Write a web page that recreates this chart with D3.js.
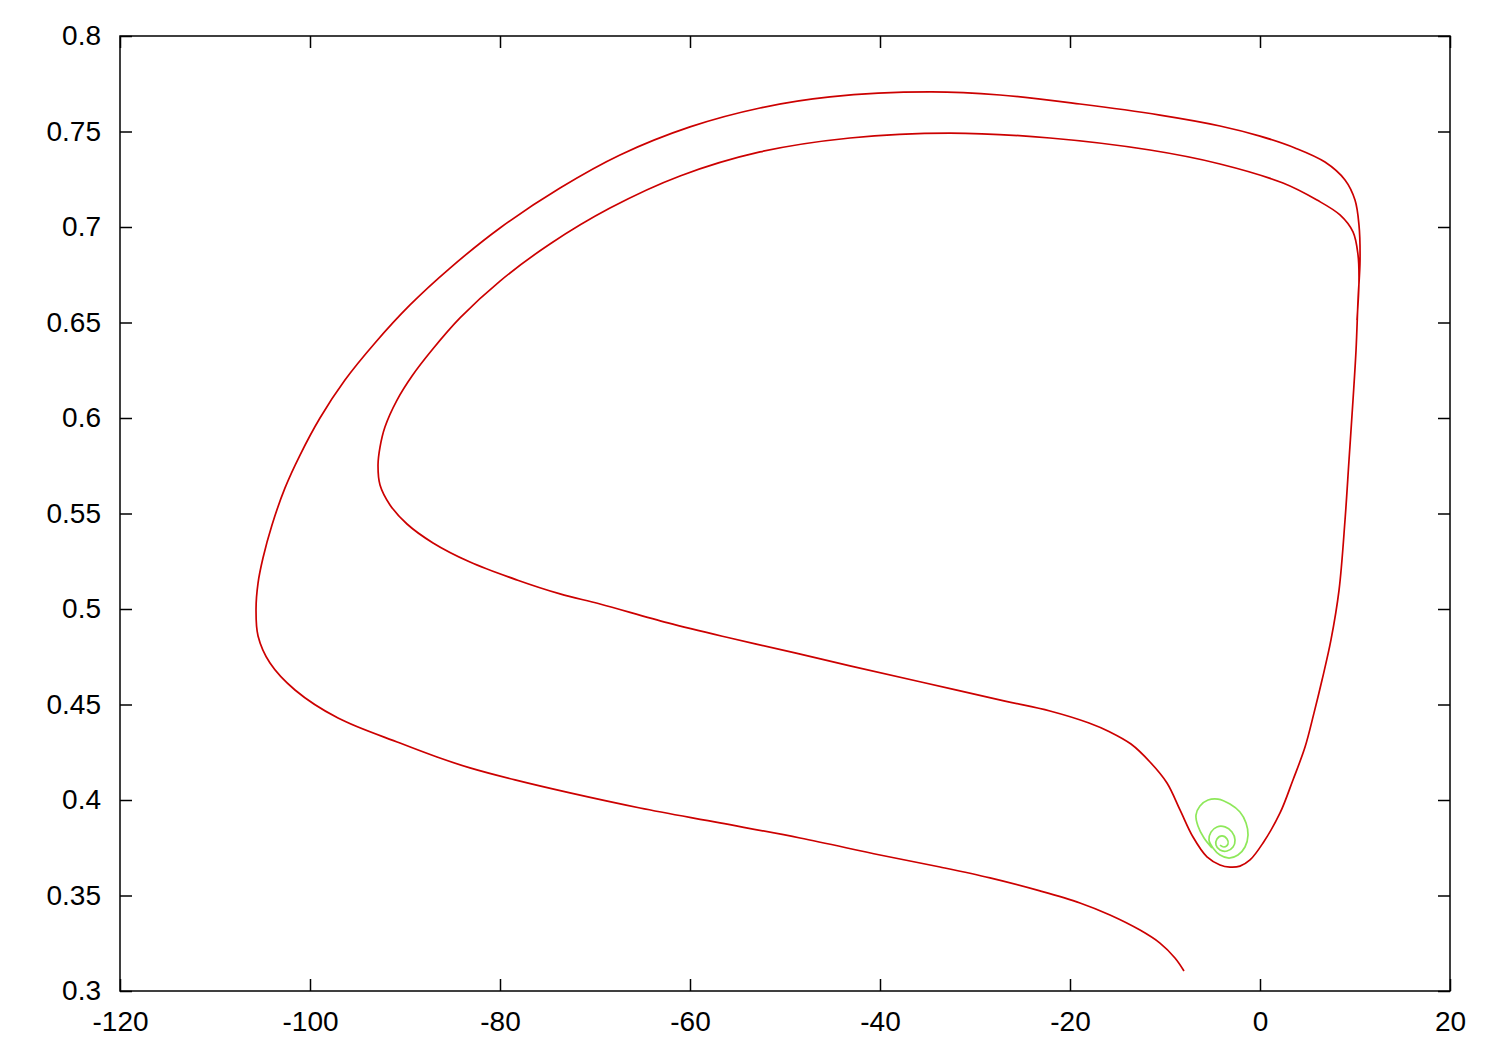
<!DOCTYPE html>
<html>
<head>
<meta charset="utf-8">
<script src="https://cdn.jsdelivr.net/npm/d3@7"></script>
<style>
  body { margin: 0; background: #fff; }
  svg text { font-family: "Liberation Sans", Arial, sans-serif; font-size: 28px; fill: #000; }
</style>
</head>
<body>
<div id="chart"></div>
<script>
{
  const { d3 } = window;

  // trajectory (red): x values and y values
  const trajX = [
    -8.0, -8.95, -10.53, -12.63, -15.79, -18.95, -23.16, -28.42, -33.68, -40.0,
    -48.42, -56.84, -65.26, -72.63, -78.42, -83.16, -86.63, -90.53, -97.05, -101.58,
    -104.21, -105.47, -105.68, -105.47, -104.95, -104.0, -102.63, -101.05, -98.95, -96.32,
    -93.16, -89.47, -85.26, -80.0, -73.68, -67.37, -60.0, -52.63, -45.26, -34.74,
    -27.37, -18.95, -10.53, -4.21, 0, 3.68, 6.84, 8.95, 10.0, 10.42,
    10.53, 10.32, 10.11, 9.79, 9.37, 8.95, 8.32, 7.47, 6.53, 5.68,
    4.74, 3.47, 2.11, 0.32, -1.05, -2.11, -3.16, -4.21, -5.58, -7.05,
    -8.42, -9.79, -11.58, -13.58, -15.79, -18.0, -22.11, -26.84, -35.68, -43.16,
    -48.95, -55.79, -62.32, -69.47, -73.68, -78.21, -83.16, -87.05, -89.79, -91.58,
    -92.63, -92.84, -92.63, -92.11, -90.84, -89.26, -87.16, -84.21, -80.0, -74.74,
    -68.42, -61.05, -52.63, -43.16, -32.63, -22.11, -11.58, -4.21, 2.42, 6.0,
    8.42, 9.79, 10.32, 10.42, 10.21,
  ];
  const trajY = [
    0.3105, 0.3173, 0.3251, 0.3319, 0.3398, 0.3461, 0.3524, 0.3592, 0.3649, 0.3712,
    0.3801, 0.3880, 0.3958, 0.4037, 0.4105, 0.4168, 0.4225, 0.4298, 0.4429, 0.4576,
    0.4717, 0.4859, 0.5, 0.5136, 0.5267, 0.5440, 0.5634, 0.5806, 0.6, 0.6199,
    0.6393, 0.6592, 0.6785, 0.6995, 0.7204, 0.7377, 0.7524, 0.7623, 0.7681, 0.7707,
    0.7691, 0.7644, 0.7586, 0.7529, 0.7476, 0.7414, 0.7340, 0.7246, 0.7141, 0.7010,
    0.6827, 0.6618, 0.6356, 0.6094, 0.5780, 0.5466, 0.5099, 0.4838, 0.4628, 0.4455,
    0.4277, 0.4105, 0.3932, 0.3775, 0.3686, 0.3654, 0.3649, 0.3660, 0.3702, 0.3806,
    0.3948, 0.4089, 0.4199, 0.4293, 0.4356, 0.4403, 0.4466, 0.4518, 0.4618, 0.4702,
    0.4770, 0.4848, 0.4927, 0.5026, 0.5079, 0.5152, 0.5246, 0.5346, 0.5445, 0.5545,
    0.5649, 0.5754, 0.5848, 0.5953, 0.6094, 0.6220, 0.6356, 0.6524, 0.6717, 0.6911,
    0.7099, 0.7267, 0.7393, 0.7466, 0.7492, 0.7466, 0.7403, 0.7330, 0.7230, 0.7141,
    0.7063, 0.6974, 0.6853, 0.6723, 0.6513,
  ];

  // spiral (green) near the fixed point
  const spiralX = [
    -5.05, -5.89, -6.53, -6.74, -6.32, -5.47, -4.42, -3.16, -2.11, -1.47,
    -1.26, -1.58, -2.32, -3.26, -4.21, -4.95, -5.37, -5.16, -4.53, -3.68,
    -2.95, -2.63, -2.84, -3.47, -4.21, -4.63, -4.53, -4.0, -3.47, -3.37,
    -3.79, -4.21,
  ];
  const spiralY = [
    0.3749, 0.3801, 0.3864, 0.3921, 0.3969, 0.4, 0.4005, 0.3979, 0.3937, 0.3880,
    0.3817, 0.3754, 0.3712, 0.3696, 0.3712, 0.3749, 0.3791, 0.3832, 0.3859, 0.3859,
    0.3832, 0.3791, 0.3754, 0.3733, 0.3738, 0.3764, 0.3796, 0.3812, 0.3796, 0.3770,
    0.3754, 0.3764,
  ];

  const xTicks = [-120, -100, -80, -60, -40, -20, 0, 20];
  const yTicks = [0.3, 0.35, 0.4, 0.45, 0.5, 0.55, 0.6, 0.65, 0.7, 0.75, 0.8];

  const width = 1500;
  const height = 1050;
  const margin = { top: 36, right: 50, bottom: 59, left: 120 };
  const tickLen = 12;

  const svg = d3.select('#chart').append('svg')
    .attr('width', width)
    .attr('height', height);

  const x = d3.scaleLinear().domain([-120, 20]).range([margin.left, width - margin.right]);
  const y = d3.scaleLinear().domain([0.3, 0.8]).range([height - margin.bottom, margin.top]);

  // plain hyphen minus, as in the original
  const fmt = d => String(d);

  // ticks on all four sides, pointing inward
  svg.append('g')
    .attr('transform', `translate(0,${y(0.3)})`)
    .call(d3.axisBottom(x).tickValues(xTicks).tickSize(-tickLen).tickPadding(tickLen + 8).tickFormat(fmt))
    .call(g => g.select('.domain').remove());
  svg.append('g')
    .attr('transform', `translate(0,${y(0.8)})`)
    .call(d3.axisTop(x).tickValues(xTicks).tickSize(-tickLen).tickFormat(''))
    .call(g => g.select('.domain').remove());
  svg.append('g')
    .attr('transform', `translate(${x(-120)},0)`)
    .call(d3.axisLeft(y).tickValues(yTicks).tickSize(-tickLen).tickPadding(tickLen + 7).tickFormat(fmt))
    .call(g => g.select('.domain').remove());
  svg.append('g')
    .attr('transform', `translate(${x(20)},0)`)
    .call(d3.axisRight(y).tickValues(yTicks).tickSize(-tickLen).tickFormat(''))
    .call(g => g.select('.domain').remove());

  svg.selectAll('.tick line').attr('stroke', '#000').attr('stroke-width', 1.5);
  svg.selectAll('.tick text')
    .style('font-family', '"Liberation Sans", Arial, sans-serif')
    .style('font-size', '28px')
    .attr('fill', '#000');

  const line = d3.line()
    .x(d => x(d[0]))
    .y(d => y(d[1]))
    .curve(d3.curveCatmullRom.alpha(0.5));

  const traj = trajX.map((v, i) => [v, trajY[i]]);
  const spiral = spiralX.map((v, i) => [v, spiralY[i]]);

  svg.append('path')
    .datum(traj)
    .attr('fill', 'none')
    .attr('stroke', '#cc0000')
    .attr('stroke-width', 1.7)
    .attr('d', line);

  svg.append('path')
    .datum(spiral)
    .attr('fill', 'none')
    .attr('stroke', '#8ee85a')
    .attr('stroke-width', 1.7)
    .attr('d', line);

  // frame
  svg.append('rect')
    .attr('x', x(-120))
    .attr('y', y(0.8))
    .attr('width', x(20) - x(-120))
    .attr('height', y(0.3) - y(0.8))
    .attr('fill', 'none')
    .attr('stroke', '#000')
    .attr('stroke-width', 1.5);
}
</script>
</body>
</html>
